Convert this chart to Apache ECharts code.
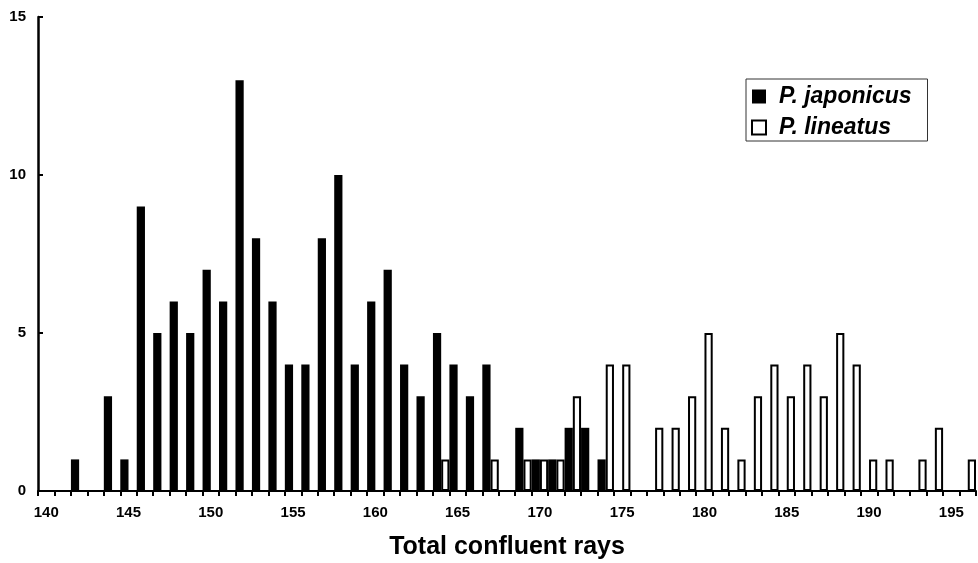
<!DOCTYPE html>
<html>
<head>
<meta charset="utf-8">
<script src="https://cdn.jsdelivr.net/npm/echarts@6/dist/echarts.min.js"></script>
<style>
html,body{margin:0;padding:0;background:#fff;}
#c{width:978px;height:563px;}
</style>
</head>
<body>
<div id="c"></div>
<script>
// Categories: total confluent rays 140..196
var categories = [140,141,142,143,144,145,146,147,148,149,150,151,152,153,154,155,156,157,158,159,
  160,161,162,163,164,165,166,167,168,169,170,171,172,173,174,175,176,177,178,179,
  180,181,182,183,184,185,186,187,188,189,190,191,192,193,194,195,196];
// P. japonicus counts
var japonicus = [0,0,1,0,3,1,9,5,6,5,7,6,13,8,6,4,4,8,10,4,
  6,7,4,3,5,4,3,4,0,2,1,1,2,2,1,0,0,0,0,0,
  0,0,0,0,0,0,0,0,0,0,0,0,0,0,0,0,0];
// P. lineatus counts
var lineatus = [0,0,0,0,0,0,0,0,0,0,0,0,0,0,0,0,0,0,0,0,
  0,0,0,0,1,0,0,1,0,1,1,1,3,0,4,4,0,2,2,3,
  5,2,1,3,4,3,4,3,5,4,1,1,0,1,2,0,1];
var yTicks = [0,5,10,15];

var FONT = '"Liberation Sans", Arial, sans-serif';
var chart = echarts.init(document.getElementById('c'), null, {renderer:'canvas'});
function nz(a){ return a.map(function(v){ return v === 0 ? null : v; }); }
chart.setOption({
  animation:false,
  backgroundColor:'#fff',
  grid:{left:38, right:2, top:17, bottom:72, containLabel:false, outerBoundsMode:'none'},
  legend:{
    orient:'vertical', left:746, top:79,
    padding:[6,16,2,5], itemGap:8,
    borderColor:'#333', borderWidth:1,
    itemWidth:14, itemHeight:14,
    textStyle:{fontFamily:FONT, fontSize:23, fontWeight:'bold', fontStyle:'italic', color:'#000', lineHeight:22, padding:[0,0,0,8]},
    data:[
      {name:'P. japonicus', icon:'rect', itemStyle:{color:'#000', borderWidth:0}},
      {name:'P. lineatus', icon:'rect', itemStyle:{color:'#fff', borderColor:'#000', borderWidth:2}}
    ]
  },
  xAxis:{
    type:'category', data:categories, boundaryGap:true,
    name:'Total confluent rays', nameLocation:'middle', nameGap:44,
    nameTextStyle:{fontFamily:FONT, fontSize:25, fontWeight:'bold', color:'#000'},
    axisLine:{lineStyle:{color:'#000', width:2}},
    axisTick:{show:true, interval:0, length:5, lineStyle:{color:'#000', width:2}},
    axisLabel:{interval:4, margin:14, fontFamily:FONT, fontSize:15, fontWeight:'bold', color:'#000'},
    splitLine:{show:false}
  },
  yAxis:{
    type:'value', min:yTicks[0], max:yTicks[yTicks.length-1], interval:5,
    axisLine:{show:true, lineStyle:{color:'#000', width:2.5}},
    axisTick:{show:true, inside:true, length:5, lineStyle:{color:'#000', width:2}},
    axisLabel:{margin:12, fontFamily:FONT, fontSize:15, fontWeight:'bold', color:'#000'},
    splitLine:{show:false}
  },
  series:[
    {name:'P. japonicus', type:'bar', data:nz(japonicus), barGap:'0%', barCategoryGap:'0%',
     itemStyle:{color:'#000'}},
    {name:'P. lineatus', type:'bar', data:nz(lineatus), barGap:'0%', barCategoryGap:'0%',
     itemStyle:{color:'#fff', borderColor:'#000', borderWidth:2}}
  ]
});
</script>
</body>
</html>
